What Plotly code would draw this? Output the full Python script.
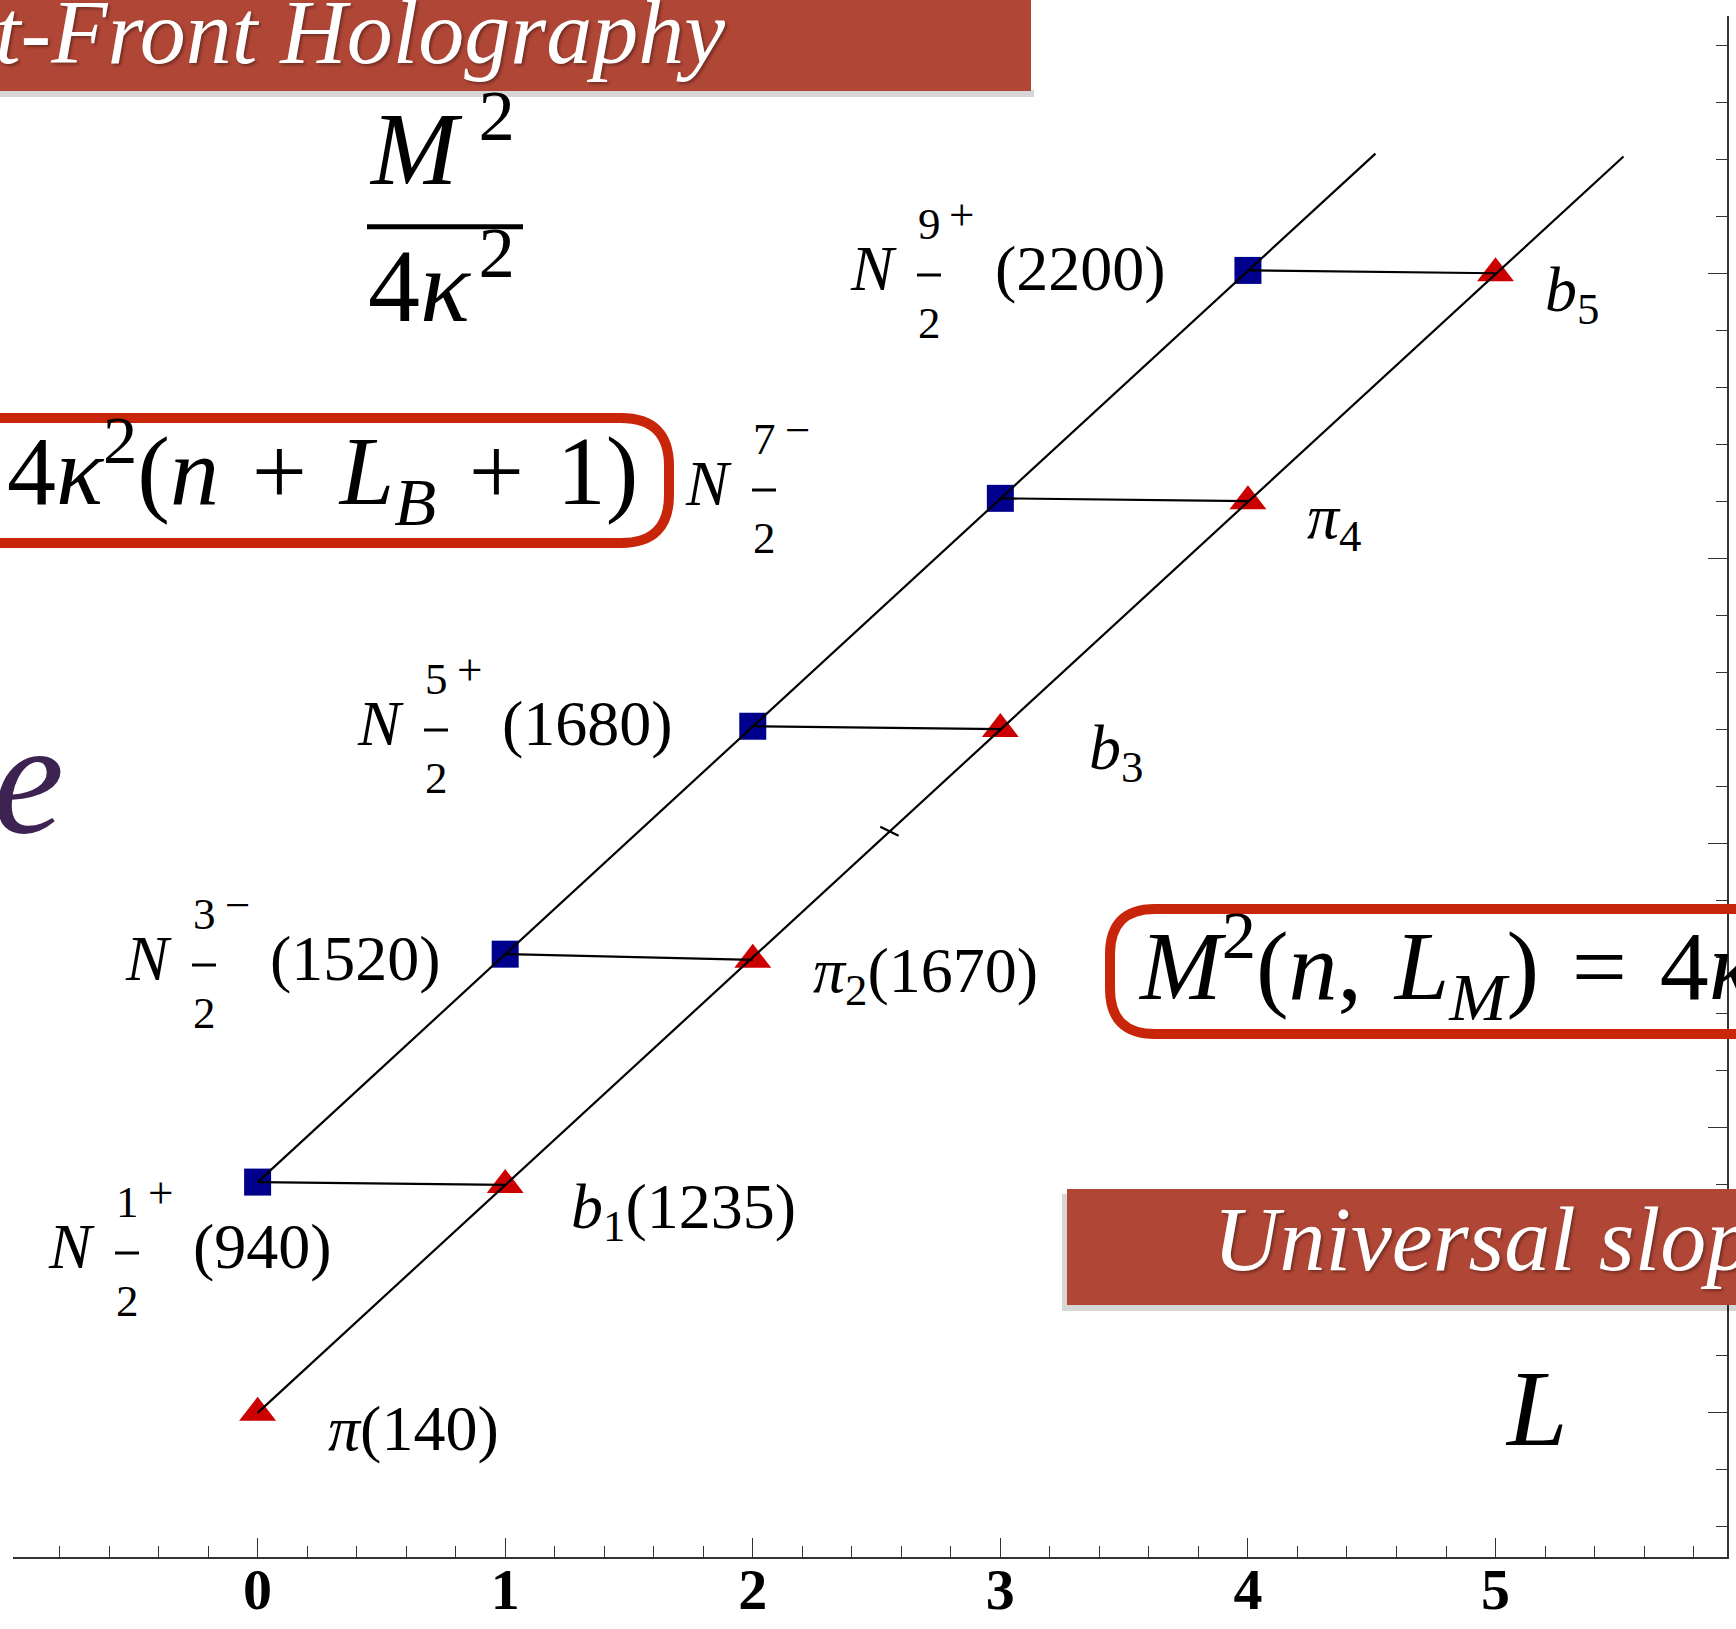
import plotly.graph_objects as go

# ---------------- data ----------------
baryon_L = [0, 1, 2, 3, 4]
baryon_M2 = [0.81, 1.61, 2.41, 3.21, 4.01]
meson_L = [0, 1, 2, 3, 4, 5]
meson_M2 = [0.00, 0.80, 1.59, 2.40, 3.20, 4.00]

baryon_traj_L = [0, 4.515]
baryon_traj_M2 = [0.81, 4.42]
meson_traj_L = [0, 5.517]
meson_traj_M2 = [0.00, 4.41]

stray_tick_L = [2.515, 2.589]
stray_tick_M2 = [2.057, 2.026]

baryon_num = ['1', '3', '5', '7', '9']
baryon_parity = ['+', '\u2212', '+', '\u2212', '+']
baryon_mass = ['(940)', '(1520)', '(1680)', '', '(2200)']
meson_names = ['<i>\u03c0</i>(140)', '<i>b</i><sub>1</sub>(1235)', '<i>\u03c0</i><sub>2</sub>(1670)',
               '<i>b</i><sub>3</sub>', '<i>\u03c0</i><sub>4</sub>', '<i>b</i><sub>5</sub>']

x_tick_vals = [0, 1, 2, 3, 4, 5]
x_tick_text = ['0', '1', '2', '3', '4', '5']

# ---------------- layout geometry ----------------
W, H = 1736, 1629
ML, MR, MT, MB = 13, 9, 16, 72
PW, PH = W - ML - MR, H - MT - MB
XR = [-0.988, 5.935]
YR = [-0.506, 4.903]
SERIF = 'Liberation Serif'
RED_BOX = '#C8260A'
BANNER = '#B04636'
SP = ' \u200a'   # slightly wider "math" space


def X(px):
    return (px - ML) / PW


def Y(py):
    return (H - MB - py) / PH


fig = go.Figure()

# markers first (lines are drawn over them, as in the reference)
fig.add_trace(go.Scatter(x=baryon_L, y=baryon_M2, mode='markers',
                         marker=dict(symbol='square', size=27, color='#00008C', line=dict(width=0)),
                         hoverinfo='skip', showlegend=False))
fig.add_trace(go.Scatter(x=meson_L, y=meson_M2, mode='markers',
                         marker=dict(symbol='triangle-up', size=32, color='#CC0000', line=dict(width=0)),
                         hoverinfo='skip', showlegend=False))

line_style = dict(color='black', width=2.2)
fig.add_trace(go.Scatter(x=baryon_traj_L, y=baryon_traj_M2, mode='lines', line=line_style,
                         hoverinfo='skip', showlegend=False))
fig.add_trace(go.Scatter(x=meson_traj_L, y=meson_traj_M2, mode='lines', line=line_style,
                         hoverinfo='skip', showlegend=False))

# connectors baryon(L) -> meson(L+1)
cx, cy = [], []
for i in range(len(baryon_L)):
    cx += [baryon_L[i], meson_L[i + 1], None]
    cy += [baryon_M2[i], meson_M2[i + 1], None]
fig.add_trace(go.Scatter(x=cx, y=cy, mode='lines', line=line_style, hoverinfo='skip', showlegend=False))
fig.add_trace(go.Scatter(x=stray_tick_L, y=stray_tick_M2, mode='lines', line=line_style,
                         hoverinfo='skip', showlegend=False))

annotations = []
shapes = []


def txt(text, x, baseline, fs, xanchor='left', italic=False, color='black', family=SERIF,
        kind='plain', shadow=None, weight='normal'):
    off = {'plain': 0.3375, 'sub': 0.265, 'sup': 0.414, 'both': 0.3415}[kind]
    yc = baseline - off * fs
    font = dict(family=family, size=fs, color=color, style='italic' if italic else 'normal', weight=weight)
    if shadow:
        font['shadow'] = shadow
    annotations.append(dict(text=text, x=X(x), y=Y(yc), xref='paper', yref='paper',
                            xanchor=xanchor, yanchor='middle', showarrow=False, font=font,
                            borderpad=0))


def rect(x0, y0, x1, y1, fill, layer='above'):
    shapes.append(dict(type='rect', xref='paper', yref='paper', x0=X(x0), x1=X(x1), y0=Y(y1), y1=Y(y0),
                       fillcolor=fill, line=dict(width=0), layer=layer))


def hline(x0, x1, y, width=3, color='black'):
    shapes.append(dict(type='line', xref='paper', yref='paper', x0=X(x0), x1=X(x1), y0=Y(y), y1=Y(y),
                       line=dict(color=color, width=width), layer='above'))


# ---- top banner ----
rect(-10, 90, 1034, 97, 'rgba(0,0,0,0.16)')
rect(-10, -10, 1031, 91, BANNER)
txt('t-Front Holography', -6, 63, 92, italic=True, color='white',
    shadow='2px 2px 3px rgba(0,0,0,0.35)')

# ---- "Universal slop" banner ----
rect(1062, 1194, 1760, 1311, 'rgba(0,0,0,0.16)')
rect(1067, 1189, 1760, 1305, BANNER)
txt('Universal slop', 1212, 1270, 92, italic=True, color='white',
    shadow='2px 2px 3px rgba(0,0,0,0.35)')

# ---- y label  M^2 / 4k^2 ----
txt('<i>M</i>\u2009<sup>2</sup>', 442, 184, 104, xanchor='center', kind='sup')
hline(367, 523, 226.7, width=5)
txt('4<i>\u03ba</i>\u200a<sup>2</sup>', 442, 321, 104, xanchor='center', kind='sup')

# ---- left formula box ----
r = 48
shapes.append(dict(type='path', xref='paper', yref='paper', layer='above',
                   path=(f"M{X(-30)},{Y(418)} H{X(669 - r)} Q{X(669)},{Y(418)} {X(669)},{Y(418 + r)} "
                         f"V{Y(543 - r)} Q{X(669)},{Y(543)} {X(669 - r)},{Y(543)} H{X(-30)}"),
                   line=dict(color=RED_BOX, width=10)))
txt(f'4<i>\u03ba</i><sup>2</sup>(<i>n</i>{SP}+{SP}<i>L</i><sub><i>B</i></sub>{SP}+{SP}1)', 6, 504, 98, kind='both')

# ---- right formula box ----
r2 = 45
shapes.append(dict(type='path', xref='paper', yref='paper', layer='above',
                   path=(f"M{X(1780)},{Y(909)} H{X(1110 + r2)} Q{X(1110)},{Y(909)} {X(1110)},{Y(909 + r2)} "
                         f"V{Y(1034 - r2)} Q{X(1110)},{Y(1034)} {X(1110 + r2)},{Y(1034)} H{X(1780)}"),
                   line=dict(color=RED_BOX, width=10)))
txt(f'<i>M</i><sup>2</sup>(<i>n</i>,{SP}<i>L</i><sub><i>M</i></sub>){SP}={SP}4<i>\u03ba</i>',
    1137, 999, 98, kind='both')

# ---- cut-off purple letter ----
txt('e', -8, 832, 160, italic=True, color='#3C2352')

# ---- axis letter L ----
txt('<i>L</i>', 1536, 1445, 109, xanchor='center')

# ---- baryon labels ----
N_pos = [(47, 1268), (124, 980), (356, 745), (684, 505), (849, 290)]
for i, (nx, nb) in enumerate(N_pos):
    fx = nx + 80
    txt('<i>N</i>', nx, nb, 64)
    txt(baryon_num[i], fx, nb - 51, 45, xanchor='center')
    txt(baryon_parity[i], fx + 33, nb - 60, 45, xanchor='center')
    hline(fx - 12, fx + 12, nb - 15, width=3)
    txt('2', fx, nb + 48, 45, xanchor='center')
    if baryon_mass[i]:
        txt(baryon_mass[i], fx + 65, nb, 64)

# ---- meson labels ----
meson_pos = [(327, 1450), (570, 1228), (812, 992), (1088, 769), (1306, 538), (1544, 311)]
for i, (mx, mb) in enumerate(meson_pos):
    txt(meson_names[i], mx, mb, 64, kind='plain' if i == 0 else 'sub')

axis_common = dict(showgrid=False, zeroline=False, showline=True, linecolor='#333333', linewidth=2,
                   ticks='inside', ticklen=19, tickwidth=1.2, tickcolor='#333333', automargin=False)

fig.update_layout(
    width=W, height=H, autosize=False,
    margin=dict(l=ML, r=MR, t=MT, b=MB, pad=0, autoexpand=False),
    paper_bgcolor='white', plot_bgcolor='white',
    showlegend=False,
    xaxis=dict(range=XR, tickmode='array', tickvals=x_tick_vals, ticktext=x_tick_text,
               tickfont=dict(family=SERIF, size=58, color='black', weight='bold'),
               ticklabelstandoff=-20,
               minor=dict(ticks='inside', ticklen=11, tickwidth=1.2, tickcolor='#333333',
                          tickmode='linear', tick0=0, dtick=0.2, showgrid=False),
               **axis_common),
    yaxis=dict(range=YR, side='right', tickmode='linear', tick0=0, dtick=1, showticklabels=False,
               minor=dict(ticks='inside', ticklen=11, tickwidth=1.2, tickcolor='#333333',
                          tickmode='linear', tick0=0, dtick=0.2, showgrid=False),
               **axis_common),
    annotations=annotations,
    shapes=shapes,
)

fig.write_html('out.html', config={'displayModeBar': False},
               post_script="document.body.style.margin='0px';document.body.style.overflow='hidden';")
